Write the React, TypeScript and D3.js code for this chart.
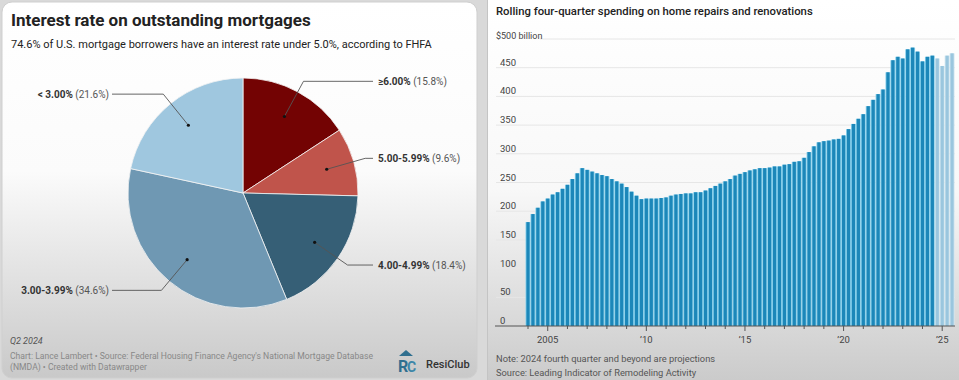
import React from "react";
import * as d3 from "d3";

// ---------- Left chart data ----------
const pieCategories = ["≥6.00%", "5.00-5.99%", "4.00-4.99%", "3.00-3.99%", "< 3.00%"];
const pieShares = [15.8, 9.6, 18.4, 34.6, 21.6];
const pieColors = ["#730303", "#c0544b", "#365f76", "#6f98b3", "#9fc7df"];

// ---------- Right chart data ----------
const spendingStartYear = 2004; // first bar = 2004 Q1, quarterly
const spending = [
  181, 195, 206, 217, 222, 229, 233, 239, 246, 256, 266, 275, 272, 269, 266, 263,
  261, 256, 252, 248, 242, 234, 227, 221, 222, 222, 222, 223, 224, 227, 229, 230,
  231, 231, 233, 233, 236, 240, 244, 248, 252, 256, 262, 265, 268, 271, 273, 275,
  275, 276, 278, 278, 281, 282, 286, 287, 293, 303, 313, 320, 322, 323, 325, 326,
  332, 343, 352, 361, 369, 383, 394, 404, 412, 442, 463, 469, 466, 482, 485, 478,
  461, 469, 471, 466, 453, 471, 475,
];
const projectionFromIndex = 83; // 2024 Q4 onward
const yTicks = [0, 50, 100, 150, 200, 250, 300, 350, 400, 450];
const xTickYears = [2005, 2010, 2015, 2020, 2025];
const xTickLabels = ["2005", "’10", "’15", "’20", "’25"];

const W = 959;
const H = 380;

function Pie() {
  const cx = 243;
  const cy = 193;
  const r = 115;
  const arcs = d3.pie<number>().sort(null).value((d) => d)(pieShares);
  const arc = d3.arc<d3.PieArcDatum<number>>().innerRadius(0).outerRadius(r);
  const dotArc = d3.arc<d3.PieArcDatum<number>>().innerRadius(87).outerRadius(87);
  const elbowArc = d3.arc<d3.PieArcDatum<number>>().innerRadius(127).outerRadius(127);
  return (
    <g>
      <g transform={`translate(${cx},${cy})`}>
        {arcs.map((a, i) => (
          <path key={i} d={arc(a) || ""} fill={pieColors[i]} stroke="#f4f4f4" strokeWidth={0.8} />
        ))}
      </g>
      {arcs.map((a, i) => {
        const [dx, dy] = dotArc.centroid(a);
        const [ex, ey] = elbowArc.centroid(a);
        const right = (a.startAngle + a.endAngle) / 2 < Math.PI;
        const endX = right ? cx + 130 : cx - 131;
        const tx = right ? cx + 135 : cx - 134;
        return (
          <g key={i}>
            <polyline
              points={`${cx + dx},${cy + dy} ${cx + ex},${cy + ey} ${endX},${cy + ey}`}
              fill="none"
              stroke="#555"
              strokeWidth={0.9}
            />
            <circle cx={cx + dx} cy={cy + dy} r={1.6} fill="#111" />
            <text
              x={tx}
              y={cy + ey + 3.5}
              textAnchor={right ? "start" : "end"}
              fontSize={10}
              fontFamily="Roboto, sans-serif"
            >
              <tspan fontWeight={700} fill="#333">{pieCategories[i]}</tspan>
              <tspan fill="#555"> ({pieShares[i]}%)</tspan>
            </text>
          </g>
        );
      })}
    </g>
  );
}

function Bars() {
  const x = d3.scaleLinear().domain([2004, 2025]).range([528, 942.2]);
  const y = d3.scaleLinear().domain([0, 500]).range([326, 39]);
  const step = x(2004.25) - x(2004);
  const years = d3.range(2004, 2026);
  const font = "Roboto, sans-serif";
  return (
    <g>
      {yTicks.map((t) => (
        <g key={t}>
          {t > 0 && <line x1={496} x2={955} y1={y(t)} y2={y(t)} stroke="#e6e6e6" strokeWidth={1} />}
          <text x={500} y={y(t) - 2} fontSize={9.5} fill="#444" fontFamily={font}>
            {t}
          </text>
        </g>
      ))}
      <line x1={540} x2={955} y1={y(500)} y2={y(500)} stroke="#e6e6e6" strokeWidth={1} />
      <text x={496} y={y(500)} fontSize={9} fill="#444" fontFamily={font}>
        $500 billion
      </text>
      {spending.map((v, i) => {
        const cxm = x(spendingStartYear + i / 4);
        const proj = i >= projectionFromIndex;
        return (
          <g key={i}>
            <rect
              x={cxm - step / 2}
              y={y(v)}
              width={step}
              height={y(0) - y(v)}
              fill={proj ? "#d2e7f1" : "#86cfeb"}
            />
            <rect
              x={cxm - 1.6}
              y={y(v)}
              width={3.2}
              height={y(0) - y(v)}
              fill={proj ? "#9ac6de" : "#1c87b9"}
            />
          </g>
        );
      })}
      <line x1={495} x2={955} y1={y(0)} y2={y(0)} stroke="#555" strokeWidth={1} />
      {years.map((yr) => (
        <line
          key={yr}
          x1={x(yr)}
          x2={x(yr)}
          y1={y(0)}
          y2={y(0) + (yr % 5 === 0 ? 5 : 3)}
          stroke="#555"
          strokeWidth={1}
        />
      ))}
      {xTickYears.map((yr, i) => (
        <text
          key={yr}
          x={x(yr)}
          y={342.5}
          textAnchor="middle"
          fontSize={9.5}
          fill="#444"
          fontFamily={font}
        >
          {xTickLabels[i]}
        </text>
      ))}
    </g>
  );
}

export default function App() {
  return (
    <svg width={W} height={H} style={{ position: "absolute", left: 0, top: 0 }}>
      <defs>
        <linearGradient id="gL" x1="0" y1="0" x2="0" y2="1">
          <stop offset="0" stopColor="#ffffff" />
          <stop offset="0.45" stopColor="#fbfbfb" />
          <stop offset="1" stopColor="#c9c9c9" />
        </linearGradient>
        <linearGradient id="gR" x1="0" y1="0" x2="0" y2="1">
          <stop offset="0" stopColor="#ffffff" />
          <stop offset="0.5" stopColor="#f8f8f8" />
          <stop offset="1" stopColor="#cbcbcb" />
        </linearGradient>
      </defs>
      <rect x={0} y={0} width={W} height={H} fill="#d9d9d9" />
      <rect x={2} y={2} width={475} height={376} rx={10} fill="url(#gL)" stroke="#cfcfcf" />
      <rect x={487} y={0} width={472} height={380} fill="url(#gR)" />
      <line x1={487.5} x2={487.5} y1={0} y2={380} stroke="#c4c4c4" />

      {/* Left chart */}
      <text x={11} y={26} fontSize={17} fontWeight={700} fill="#222" fontFamily="Roboto, sans-serif">
        Interest rate on outstanding mortgages
      </text>
      <text x={11} y={48} fontSize={11} fill="#222" fontFamily="Roboto, sans-serif">
        74.6% of U.S. mortgage borrowers have an interest rate under 5.0%, according to FHFA
      </text>
      <Pie />
      <text x={10} y={343.5} fontSize={9} fontStyle="italic" fill="#555" fontFamily="Roboto, sans-serif">
        Q2 2024
      </text>
      <text x={10} y={359} fontSize={8.6} fill="#888" fontFamily="Roboto, sans-serif">
        Chart: Lance Lambert • Source: Federal Housing Finance Agency's National Mortgage Database
      </text>
      <text x={10} y={370} fontSize={8.6} fill="#888" fontFamily="Roboto, sans-serif">
        (NMDA) • Created with Datawrapper
      </text>
      <g>
        <path d="M399,356 L406,350 L413,356 Z" fill="#2f6f8f" />
        <text x={398} y={372} fontSize={16} fontWeight={700} fill="#2f6f8f" fontFamily="Roboto, sans-serif">
          R
        </text>
        <text x={407} y={372} fontSize={14} fontWeight={700} fill="#3d86a8" fontFamily="Roboto, sans-serif">
          C
        </text>
        <text x={426} y={368} fontSize={11} fontWeight={500} fill="#333" fontFamily="Roboto, sans-serif">
          ResiClub
        </text>
      </g>

      {/* Right chart */}
      <text x={496} y={15} fontSize={11.3} fontWeight={500} fill="#222" fontFamily="Roboto, sans-serif">
        Rolling four-quarter spending on home repairs and renovations
      </text>
      <Bars />
      <text x={496} y={362} fontSize={9.3} fill="#555" fontFamily="Roboto, sans-serif">
        Note: 2024 fourth quarter and beyond are projections
      </text>
      <text x={496} y={375.5} fontSize={9.3} fill="#555" fontFamily="Roboto, sans-serif">
        Source: Leading Indicator of Remodeling Activity
      </text>
    </svg>
  );
}
